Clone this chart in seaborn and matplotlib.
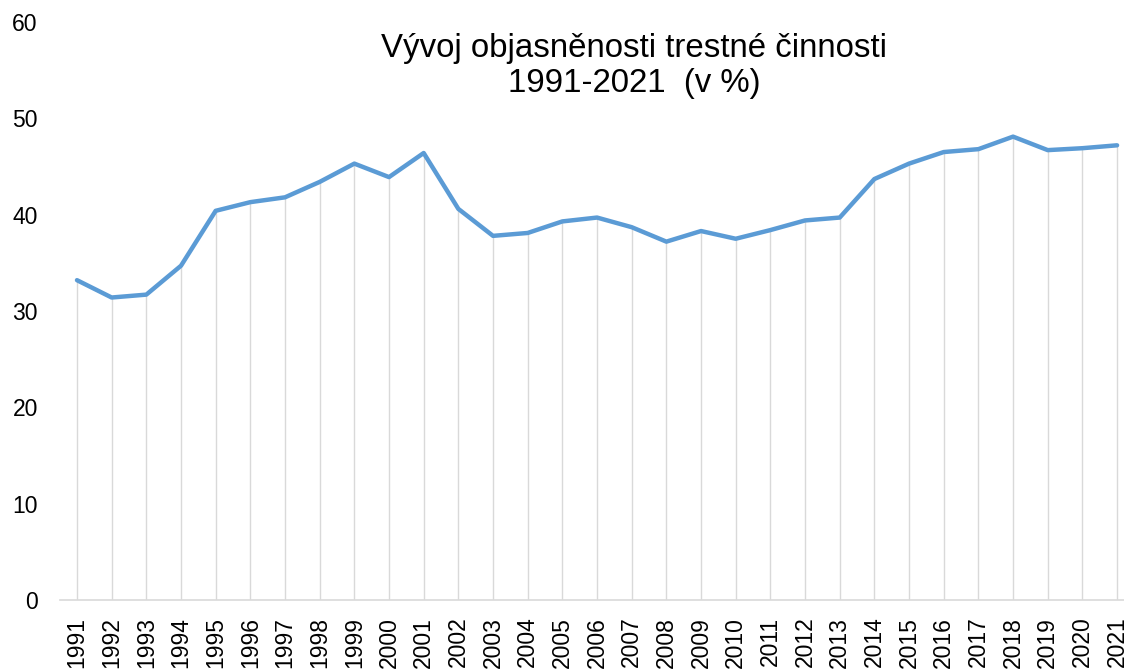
import matplotlib
matplotlib.use("Agg")
import matplotlib.pyplot as plt
import seaborn as sns
import pandas as pd

years = list(range(1991, 2022))
clearance_rate = [33.2, 31.4, 31.7, 34.7, 40.4, 41.3, 41.8, 43.4, 45.3, 43.9,
                  46.4, 40.6, 37.8, 38.1, 39.3, 39.7, 38.7, 37.2, 38.3, 37.5,
                  38.4, 39.4, 39.7, 43.7, 45.3, 46.5, 46.8, 48.1, 46.7, 46.9,
                  47.2]
y_ticks = [0, 10, 20, 30, 40, 50, 60]
title_text = "Vývoj objasněnosti trestné činnosti\n1991-2021  (v %)"

df = pd.DataFrame({"rok": years, "objasnenost": clearance_rate})

sns.set_style("white")
plt.rcParams["font.family"] = ["Liberation Sans", "DejaVu Sans"]

fig = plt.figure(figsize=(11.24, 6.70), dpi=100)
ax = fig.add_axes([60 / 1124, 70 / 670, 1 - 60 / 1124, (600 - 22) / 670])

# drop lines from the baseline up to each yearly value
ax.vlines(df["rok"], 0, df["objasnenost"], color="#D9D9D9", linewidth=1.0, zorder=1)

sns.lineplot(data=df, x="rok", y="objasnenost", ax=ax, color="#5B9BD5",
             linewidth=3.2, zorder=3, solid_joinstyle="round", solid_capstyle="round")

ax.set_xlim(years[0] - 0.49, years[-1] + 0.2)
ax.set_ylim(0, 60)
ax.set_yticks(y_ticks)
ax.set_yticklabels([str(t) for t in y_ticks], fontsize=16.5, color="#000000")
ax.set_xticks(years)
ax.set_xticklabels([str(y) for y in years], rotation=90, fontsize=16.5,
                   color="#000000", va="top", ha="center")
ax.tick_params(axis="x", length=0, pad=12)
ax.tick_params(axis="y", length=0, pad=16)
ax.set_xlabel("")
ax.set_ylabel("")

for side in ["left", "right", "top"]:
    ax.spines[side].set_visible(False)
ax.spines["bottom"].set_color("#D9D9D9")
ax.spines["bottom"].set_linewidth(1.2)
ax.grid(False)

fig.text(634 / 1124, 1 - 66 / 670, title_text, ha="center", va="center",
         fontsize=23.8, linespacing=1.15, color="#000000")

fig.savefig("out.png", dpi=100)
